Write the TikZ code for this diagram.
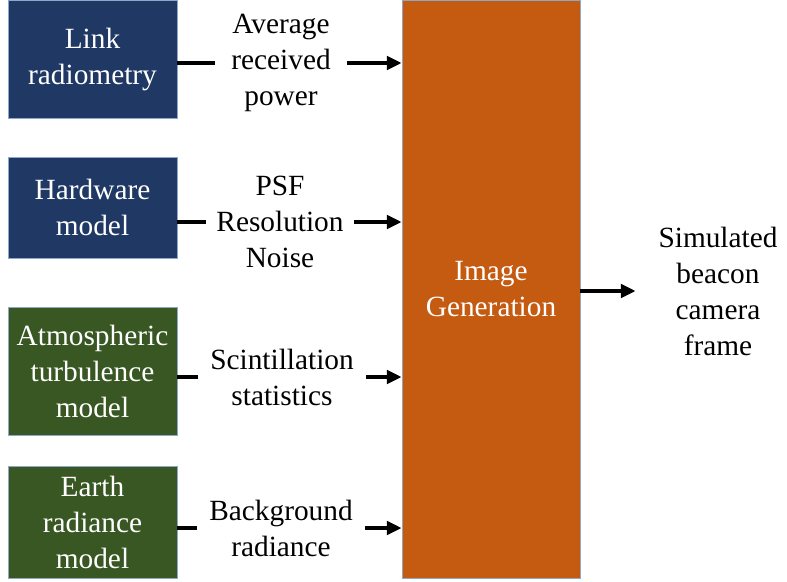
\documentclass[tikz,border=0pt]{standalone}
\usepackage{fontspec}
\setmainfont{LiberationSerif}[Extension=.ttf, UprightFont=*-Regular,
  BoldFont=*-Bold]
\usetikzlibrary{arrows.meta}
\definecolor{srcblue}{HTML}{203864}
\definecolor{srcgreen}{HTML}{385723}
\definecolor{genorange}{HTML}{C55A11}
\definecolor{edgeblue}{HTML}{8EA9C8}
\tikzset{
  block/.style    = {shape=rectangle, draw=edgeblue, line width=0.6pt,
                     align=center, text=white, minimum width=126.75pt},
  source/.style   = {block, fill=srcblue},
  model/.style    = {block, fill=srcgreen},
  generator/.style= {block, fill=genorange, minimum width=133.5pt,
                     minimum height=433.5pt},
  signal/.style   = {align=center, inner xsep=9pt},
  feed/.style     = {draw, line width=3.4pt},
  flow/.style     = {feed, -{Triangle[length=11pt,width=10pt]}}
}

\begin{document}
\begin{tikzpicture}
  [
    x                 = 0.75pt,
    y                 = -0.75pt,
    every node/.style = {font=\rmfamily\fontsize{22}{27}\selectfont}
  ]
 \useasboundingbox (0,0) rectangle (787,581);
 \node [source, minimum height=88.5pt]  (link)  at (92.5,59)  {Link\\radiometry};
 \node [source, minimum height=75.75pt] (hw)    at (92.5,207.5) {Hardware\\model};
 \node [model, minimum height=96pt]     (atm)   at (92.5,371) {Atmospheric\\turbulence\\model};
 \node [model, minimum height=84pt]     (earth) at (92.5,522) {Earth\\radiance\\model};
 \node [generator] (gen) at (491,289) {Image\\Generation};

 \node [signal, inner xsep=12pt] (power)  at (281,63)  {Average\\received\\power};
 \node [signal, inner xsep=7.5pt] (psf)   at (280,222) {PSF\\Resolution\\Noise};
 \node [signal]                  (scint)  at (282,377) {Scintillation\\statistics};
 \node [signal]                  (bg)     at (281,528) {Background\\radiance};
 \node [signal, inner xsep=17pt] (frame)  at (718,291) {Simulated\\beacon\\camera\\frame};

 \draw [feed] (power.west -| link.east) -- (power.west);
 \draw [flow] (power.east) -- (power.east -| gen.west);
 \draw [feed] (psf.west -| hw.east) -- (psf.west);
 \draw [flow] (psf.east) -- (psf.east -| gen.west);
 \draw [feed] (scint.west -| atm.east) -- (scint.west);
 \draw [flow] (scint.east) -- (scint.east -| gen.west);
 \draw [feed] (bg.west -| earth.east) -- (bg.west);
 \draw [flow] (bg.east) -- (bg.east -| gen.west);
 \draw [flow] (frame.west -| gen.east) -- (frame.west);
\end{tikzpicture}
\end{document}
